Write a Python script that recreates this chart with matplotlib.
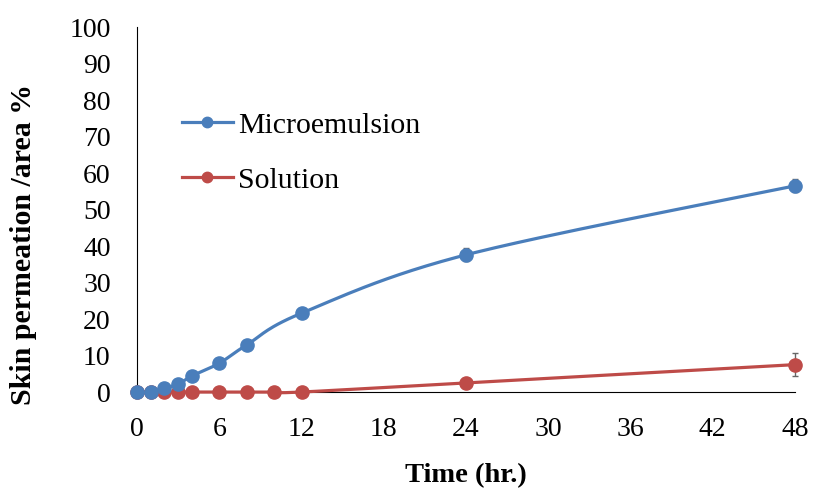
import numpy as np
import matplotlib
matplotlib.use("Agg")
import matplotlib.pyplot as plt
from matplotlib.lines import Line2D

plt.rcParams['font.family'] = ['Liberation Serif', 'DejaVu Serif']

# data
time_micro = [0, 1, 2, 3, 4, 6, 8, 12, 24, 48]
micro = [0, 0, 1.0, 2.2, 4.4, 7.9, 12.9, 21.6, 37.6, 56.5]
micro_err = [0, 0, 0, 0, 0, 0, 0, 0, 1.8, 1.8]

time_sol = [0, 1, 2, 3, 4, 6, 8, 10, 12, 24, 48]
sol = [0, 0, 0, 0, 0, 0, 0, 0, 0, 2.5, 7.5]
sol_err = [0, 0, 0, 0, 0, 0, 0, 0, 0, 0, 3.2]

x_ticks = [0, 6, 12, 18, 24, 30, 36, 42, 48]
y_ticks = list(range(0, 101, 10))

blue = '#4a7ebb'
red = '#be4b48'


def smooth(xs, ys, n=30):
    # Catmull-Rom style smoothing, like Excel's smoothed line
    xs = np.asarray(xs, float)
    ys = np.asarray(ys, float)
    px = np.concatenate([[xs[0]], xs, [xs[-1]]])
    py = np.concatenate([[ys[0]], ys, [ys[-1]]])
    out_x, out_y = [], []
    t = np.linspace(0, 1, n)
    for i in range(1, len(px) - 2):
        p0, p1, p2, p3 = [np.array([px[j], py[j]]) for j in (i - 1, i, i + 1, i + 2)]
        c1 = p1 + (p2 - p0) / 6.0
        c2 = p2 - (p3 - p1) / 6.0
        pts = ((1 - t) ** 3)[:, None] * p1 + (3 * (1 - t) ** 2 * t)[:, None] * c1 \
            + (3 * (1 - t) * t ** 2)[:, None] * c2 + (t ** 3)[:, None] * p2
        out_x.extend(pts[:, 0])
        out_y.extend(pts[:, 1])
    return out_x, out_y


fig = plt.figure(figsize=(8.16, 4.91), dpi=100)
ax = fig.add_axes([0.168, 0.2016, 0.806, 0.743])

sx, sy = smooth(time_sol, sol)
ax.plot(sx, sy, color=red, lw=2.3, clip_on=False, zorder=3)
ax.errorbar(time_sol, sol, yerr=sol_err, fmt='o', color=red, ms=9.5,
            ecolor='#666666', elinewidth=1, capsize=2.5, clip_on=False, zorder=4)

mx, my = smooth(time_micro, micro)
ax.plot(mx, my, color=blue, lw=2.3, clip_on=False, zorder=3)
ax.errorbar(time_micro, micro, yerr=micro_err, fmt='o', color=blue, ms=9.5,
            ecolor='#666666', elinewidth=1, capsize=2.5, clip_on=False, zorder=4)

ax.set_xlim(0, 48)
ax.set_ylim(0, 100)
ax.set_xticks(x_ticks)
ax.set_yticks(y_ticks)
ax.tick_params(labelsize=20, length=0)
ax.tick_params(axis='y', pad=19)
ax.tick_params(axis='x', pad=18)
ax.spines['top'].set_visible(False)
ax.spines['right'].set_visible(False)
ax.set_xlabel('Time (hr.)', fontsize=20.5, fontweight='bold', va='center')
ax.xaxis.set_label_coords(0.5, -0.23)
ax.set_ylabel('Skin permeation /area %', fontsize=21.5, fontweight='bold', va='center')
ax.yaxis.set_label_coords(-0.173, 0.403)

handles = [Line2D([], [], color=blue, lw=2.3, marker='o', ms=7.5),
           Line2D([], [], color=red, lw=2.3, marker='o', ms=7.5)]
ax.legend(handles, ['Microemulsion', 'Solution'], loc='center left',
          bbox_to_anchor=(0.068, 0.656), frameon=False, fontsize=21.5,
          labelspacing=0.95, handlelength=1.7, handletextpad=0.17,
          borderpad=0, borderaxespad=0)

fig.savefig('out.png', dpi=100)
